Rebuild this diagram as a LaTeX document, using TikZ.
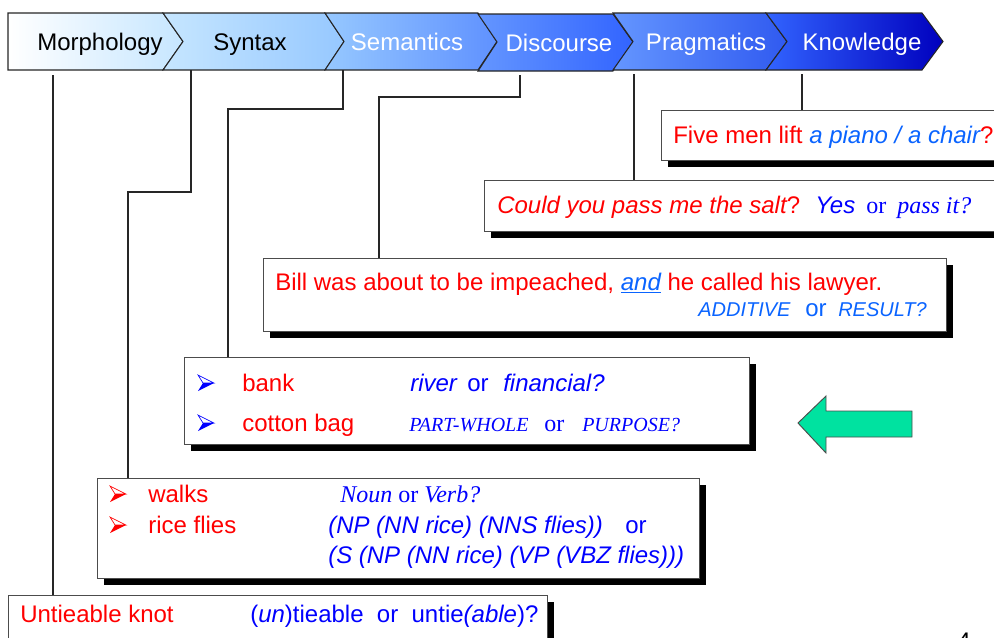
\documentclass[tikz,border=0pt]{standalone}
\usepackage{fontspec}
\setmainfont{Liberation Sans}
\newfontfamily\tms{Liberation Serif}
\usetikzlibrary{shadows}
\definecolor{myred}{RGB}{255,0,0}
\definecolor{myblue}{RGB}{0,0,255}
\definecolor{lblue}{RGB}{10,100,255}
\definecolor{mygreen}{RGB}{0,226,160}
\definecolor{c0}{RGB}{255,255,255}
\definecolor{c1}{RGB}{198,230,255}
\definecolor{c2}{RGB}{150,200,255}
\definecolor{c3}{RGB}{95,145,255}
\definecolor{c4}{RGB}{100,150,255}
\definecolor{c5}{RGB}{50,100,255}
\definecolor{c6}{RGB}{48,90,240}
\definecolor{c7}{RGB}{0,0,190}
\begin{document}
\begin{tikzpicture}[x=0.75pt,y=-0.75pt,
  every node/.style={font=\fontsize{18pt}{21pt}\selectfont, inner sep=0pt},
  txt/.style={anchor=base west},
  lab/.style={anchor=base},
  box/.style={draw=black!70, line width=0.9pt, fill=white, anchor=north west, inner sep=0pt,
    drop shadow={shadow xshift=4.5pt, shadow yshift=-4.5pt, opacity=1, fill=black}},
  chev/.style={draw=black!85, line width=0.8pt},
  conn/.style={draw=black!85, line width=0.9pt},
  pics/bul/.style={code={
    \draw[#1, line width=0.5pt, fill=white] (0,-8) -- (16,0) -- (5,0) -- cycle;
    \fill[#1] (5,0) -- (16,0) -- (0,8) -- cycle;
  }}
]
\useasboundingbox (0,0) rectangle (994,637);
\clip (0,0) rectangle (994,637);

% chevrons
\path[chev, left color=c0, right color=c1] (8,13) -- (163,13) -- (183,41.5) -- (163,70) -- (8,70) -- cycle;
\path[chev, left color=c1, right color=c2] (163,13) -- (325,13) -- (344,41.5) -- (325,70) -- (163,70) -- (183,41.5) -- cycle;
\path[chev, left color=c2, right color=c3] (325,13) -- (478,13) -- (497,41.5) -- (478,70) -- (325,70) -- (344,41.5) -- cycle;
\path[chev, left color=c4, right color=c5] (478,14) -- (613,14) -- (633,42) -- (613,71) -- (478,71) -- (497,42) -- cycle;
\path[chev, left color=c4, right color=c6] (613,13) -- (766,13) -- (787,41.5) -- (766,70) -- (613,70) -- (633,41.5) -- cycle;
\path[chev, left color=c5, right color=c7] (766,13) -- (922,13) -- (943,41.5) -- (922,70) -- (766,70) -- (787,41.5) -- cycle;

\node[lab] (morph) at (100,50) {Morphology};
\node[lab] (syn) at (250,50) {Syntax};
\node[lab, text=white] (sem) at (407,50) {Semantics};
\node[lab, text=white] (dis) at (559,51) {Discourse};
\node[lab, text=white] (prag) at (706,50) {Pragmatics};
\node[lab, text=white] (know) at (862,50) {Knowledge};

% boxes
\node[box, minimum width=345*0.75pt, minimum height=50*0.75pt] (fivebox) at (661,110) {};
\node[box, minimum width=520*0.75pt, minimum height=51*0.75pt] (couldbox) at (484,180) {};
\node[box, minimum width=683*0.75pt, minimum height=73*0.75pt] (billbox) at (263,258) {};
\node[box, minimum width=565*0.75pt, minimum height=87*0.75pt] (bankbox) at (184,357) {};
\node[box, minimum width=602*0.75pt, minimum height=100*0.75pt] (walksbox) at (97,478) {};
\node[box, minimum width=539*0.75pt, minimum height=60*0.75pt] (untiebox) at (8,595) {};

% connectors
\coordinate (cmorph) at (53,75);
\coordinate (csyn) at (191,70);
\coordinate (bsyn) at (128,192);
\coordinate (csem) at (343,70);
\coordinate (bsem) at (228,109);
\coordinate (cdis) at (520,75);
\coordinate (bdis) at (379,97);
\coordinate (cprag) at (634,74);
\coordinate (cknow) at (802,74);
\draw[conn] (cmorph) -- (cmorph |- untiebox.north);
\draw[conn] (csyn) |- (bsyn) -- (bsyn |- walksbox.north);
\draw[conn] (csem) |- (bsem) -- (bsem |- bankbox.north);
\draw[conn] (cdis) |- (bdis) -- (bdis |- billbox.north);
\draw[conn] (cprag) -- (cprag |- couldbox.north);
\draw[conn] (cknow) -- (cknow |- fivebox.north);

% Five men
\node[txt] (t1) at (673,143) {\color{myred}Five men lift \color{lblue}\itshape a piano / a chair\upshape\color{myred}?};
% Could
\node[txt, text=myred] (t2a) at (497,213) {\itshape Could you pass me the salt\upshape ?};
\node[txt, text=myblue] (t2b) at (815,213) {\itshape Yes};
\node[txt, text=myblue] (t2c) at (866,213) {\tms or};
\node[txt, text=myblue] (t2d) at (897,213) {\tms\itshape pass it?};
% Bill
\node[txt, text=myred] (t3a) at (275,290) {Bill was about to be impeached, {\color{lblue}\itshape\underline{and}} he called his lawyer.};
\node[txt, text=lblue] (t3b) at (698,316) {\fontsize{15pt}{18pt}\selectfont\itshape ADDITIVE};
\node[txt, text=lblue] (t3c) at (805,316) {or};
\node[txt, text=lblue] (t3d) at (838,316) {\fontsize{15pt}{18pt}\selectfont\itshape RESULT?};
% bank
\pic at (198,383) {bul=myblue};
\pic at (198,423) {bul=myblue};
\node[txt, text=myred] (t4a) at (242,391) {bank};
\node[txt, text=myblue] (t4b) at (410,391) {\itshape river};
\node[txt, text=myblue] (t4c) at (467,391) {or};
\node[txt, text=myblue] (t4d) at (503,391) {\itshape financial?};
\node[txt, text=myred] (t5a) at (242,431) {cotton bag};
\node[txt, text=myblue] (t5b) at (409,431) {\tms\fontsize{15pt}{18pt}\selectfont\itshape PART-WHOLE};
\node[txt, text=myblue] (t5c) at (544,431) {\tms or};
\node[txt, text=myblue] (t5d) at (582,431) {\tms\fontsize{15pt}{18pt}\selectfont\itshape PURPOSE?};
% walks
\pic at (110,494) {bul=myred};
\pic at (110,525) {bul=myred};
\node[txt, text=myred] (t6a) at (148,502) {walks};
\node[txt, text=myblue] (t6b) at (340,502) {\tms\textit{Noun} or \textit{Verb?}};
\node[txt, text=myred] (t7a) at (148,533) {rice flies};
\node[txt, text=myblue] (t7b) at (328,533) {\itshape (NP (NN rice) (NNS flies))};
\node[txt, text=myblue] (t7c) at (625,533) {or};
\node[txt, text=myblue] (t8) at (328,563) {\itshape (S (NP (NN rice) (VP (VBZ flies)))};
% untieable
\node[txt, text=myred] (t9a) at (20,622) {Untieable knot};
\node[txt, text=myblue] (t9b) at (250,622) {(\textit{un})tieable\ \ or\ \ untie\textit{(able})?};

% green arrow
\draw[fill=mygreen, draw=black!70, line width=0.7pt] (798,423) -- (826,396) -- (826,411) -- (912,411) -- (912,437) -- (826,437) -- (826,453) -- cycle;

% page number
\node[txt] (pnum) at (957,649) {4};
\end{tikzpicture}
\end{document}
